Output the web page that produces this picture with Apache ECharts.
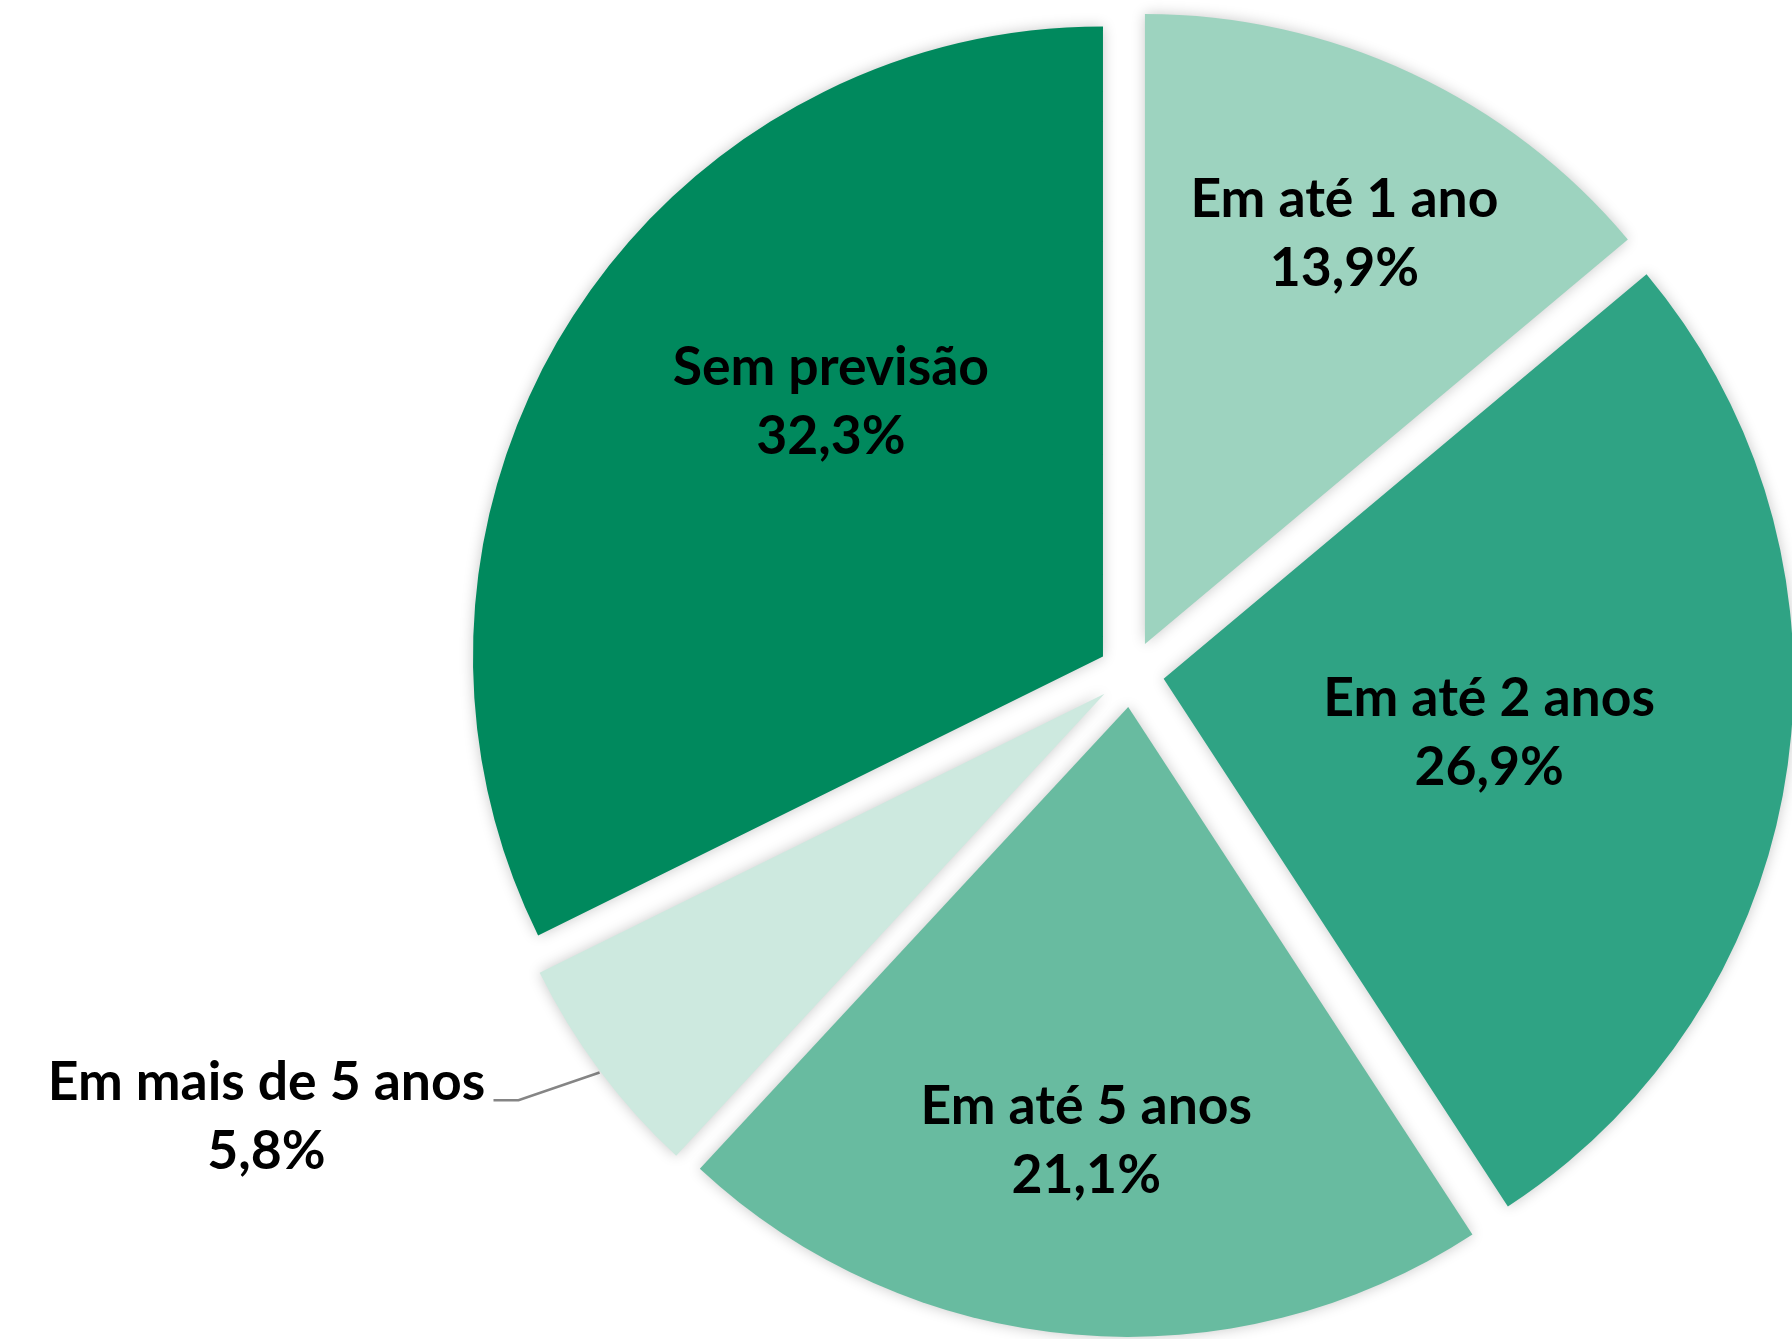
<!DOCTYPE html>
<html><head><meta charset="utf-8">
<script src="https://cdn.jsdelivr.net/npm/echarts@6/dist/echarts.min.js"></script>
<style>html,body{margin:0;padding:0;background:#ffffff}#c{width:1792px;height:1339px}</style>
</head><body><div id="c"></div>
<script>
const categories = ['Em até 1 ano', 'Em até 2 anos', 'Em até 5 anos', 'Em mais de 5 anos', 'Sem previsão'];
const values = [13.9, 26.9, 21.1, 5.8, 32.3];
const colors = ['#9dd3bf', '#2fa384', '#68bba0', '#cde9df', '#00895d'];
const labelOutside = [false, false, false, true, false];
const labelNudge = [[65, -122], [11, 8], [-15, 118], [0, 0], [-2, -86]];

const fmt = v => v.toFixed(1).replace('.', ',') + '%';
const FS = 53.5, LH = 69, FONT = 'Lato';

const chart = echarts.init(document.getElementById('c'), null, {renderer: 'canvas'});
chart.setOption({
  backgroundColor: '#ffffff',
  animation: false,
  series: [{
    type: 'pie',
    center: [1131, 674],
    radius: 630,
    startAngle: 90,
    clockwise: true,
    selectedMode: 'multiple',
    selectedOffset: 33,
    avoidLabelOverlap: false,
    itemStyle: {shadowBlur: 14, shadowColor: 'rgba(0,0,0,0.22)'},
    label: {
      show: true,
      formatter: p => labelOutside[p.dataIndex]
        ? '{nw|' + p.name + '}\n{vw|' + fmt(p.value) + '}'
        : '{n|' + p.name + '}\n{v|' + fmt(p.value) + '}',
      rich: {
        n: {fontFamily: FONT, fontWeight: 'bold', fontSize: FS, lineHeight: LH, color: '#000', align: 'center'},
        v: {fontFamily: FONT, fontWeight: 'bold', fontSize: FS, lineHeight: LH, color: '#000', align: 'center'},
        nw: {fontFamily: FONT, fontWeight: 'bold', fontSize: FS, lineHeight: LH, color: '#000', align: 'center', width: 444},
        vw: {fontFamily: FONT, fontWeight: 'bold', fontSize: FS, lineHeight: LH, color: '#000', align: 'center', width: 444}
      }
    },
    labelLine: {length: 45, length2: 70, lineStyle: {color: '#858585', width: 2.6}},
    labelLayout: p => {
      const i = p.dataIndex;
      if (!labelOutside[i]) return {dx: labelNudge[i][0], dy: labelNudge[i][1]};
      const pts = p.labelLinePoints;
      if (!pts || pts.length < 3) return {};
      const a = pts[0], e = pts[2];
      return {labelLinePoints: [[a[0], a[1] + 2], [e[0] + 25, e[1] + 3], [e[0], e[1] + 3]]};
    },
    emphasis: {disabled: true},
    data: categories.map((name, i) => ({
      name: name,
      value: values[i],
      selected: true,
      itemStyle: {color: colors[i]},
      label: labelOutside[i] ? {position: 'outside', padding: [40, 0, 0, 0]} : {position: 'inside'},
      labelLine: {show: labelOutside[i]}
    }))
  }]
});
</script></body></html>
